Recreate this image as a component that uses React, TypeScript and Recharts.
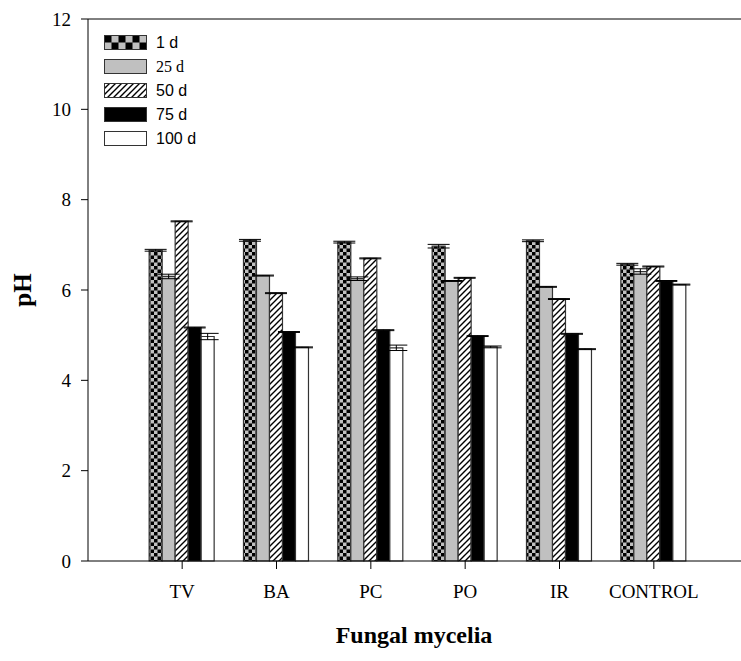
import { BarChart, Bar, XAxis, YAxis, ErrorBar, ReferenceLine } from "recharts";

const categories = ["TV", "BA", "PC", "PO", "IR", "CONTROL"];
const day1 = [6.88, 7.1, 7.06, 6.97, 7.09, 6.57];
const day25 = [6.3, 6.32, 6.25, 6.2, 6.07, 6.41];
const day50 = [7.52, 5.93, 6.7, 6.27, 5.8, 6.52];
const day75 = [5.17, 5.07, 5.11, 4.98, 5.03, 6.2];
const day100 = [4.97, 4.73, 4.72, 4.74, 4.69, 6.12];
const err1 = [0.02, 0.02, 0.02, 0.04, 0.02, 0.02];
const err25 = [0.05, 0.01, 0.04, 0.01, 0.01, 0.06];
const err50 = [0.01, 0.01, 0.01, 0.01, 0.01, 0.01];
const err75 = [0.01, 0.01, 0.01, 0.01, 0.01, 0.01];
const err100 = [0.07, 0.01, 0.06, 0.02, 0.01, 0.01];
const yTicks = [0, 2, 4, 6, 8, 10, 12];

const data = categories.map((name, i) => ({
  name,
  d1: day1[i],
  d25: day25[i],
  d50: day50[i],
  d75: day75[i],
  d100: day100[i],
  e1: err1[i],
  e25: err25[i],
  e50: err50[i],
  e75: err75[i],
  e100: err100[i],
}));

const sans = "'Liberation Sans', Arial, sans-serif";
const serif = "'Liberation Serif', 'Times New Roman', serif";

const series = [
  { key: "d1", err: "e1", label: "1 d", fill: "url(#checker)", legendFill: "url(#checkerBig)", font: sans },
  { key: "d25", err: "e25", label: "25 d", fill: "#c0c0c0", legendFill: "#c0c0c0", font: serif },
  { key: "d50", err: "e50", label: "50 d", fill: "url(#hatch)", legendFill: "url(#hatch)", font: sans },
  { key: "d75", err: "e75", label: "75 d", fill: "#000000", legendFill: "#000000", font: sans },
  { key: "d100", err: "e100", label: "100 d", fill: "#ffffff", legendFill: "#ffffff", font: sans },
];

function LegendBox() {
  return (
    <div style={{ position: "absolute", left: 104, top: 35, display: "flex", flexDirection: "column", gap: 9 }}>
      {series.map((s) => (
        <div key={s.key} style={{ display: "flex", alignItems: "center", height: 15 }}>
          <svg width={43} height={15} style={{ display: "block" }}>
            <rect x={0.5} y={0.5} width={42} height={14} fill={s.legendFill} stroke="#333" strokeWidth={1} />
          </svg>
          <span style={{ marginLeft: 9, fontFamily: s.font, fontSize: 16, color: "#000", lineHeight: "15px" }}>
            {s.label}
          </span>
        </div>
      ))}
    </div>
  );
}

export default function App() {
  return (
    <div
      style={{
        position: "absolute",
        left: 0,
        top: 0,
        width: 741,
        height: 661,
        background: "#fff",
        fontFamily: serif,
      }}
    >
      <BarChart
        width={741}
        height={661}
        data={data}
        margin={{ top: 19, right: 0, bottom: 0, left: 0 }}
        barCategoryGap="15%"
        barGap={0}
        style={{ fontFamily: serif }}
      >
        <defs>
          <pattern id="checker" width={7} height={7} patternUnits="userSpaceOnUse">
            <rect width={7} height={7} fill="#c0c0c0" />
            <rect width={3.5} height={3.5} fill="#000" />
            <rect x={3.5} y={3.5} width={3.5} height={3.5} fill="#000" />
          </pattern>
          <pattern id="checkerBig" x={0.5} y={0.5} width={14} height={14} patternUnits="userSpaceOnUse">
            <rect width={14} height={14} fill="#c0c0c0" />
            <rect width={7} height={7} fill="#000" />
            <rect x={7} y={7} width={7} height={7} fill="#000" />
          </pattern>
          <pattern id="hatch" width={6} height={6} patternUnits="userSpaceOnUse">
            <rect width={6} height={6} fill="#fff" />
            <path d="M0,6 L6,0 M-1,1 L1,-1 M5,7 L7,5" stroke="#000" strokeWidth={1.4} />
          </pattern>
        </defs>
        <XAxis
          dataKey="name"
          height={100}
          padding={{ left: 47, right: 40 }}
          tickSize={8}
          tickMargin={16}
          axisLine={{ stroke: "#000" }}
          tickLine={{ stroke: "#000" }}
          tick={{ fill: "#000", fontSize: 19, fontFamily: serif }}
        />
        <YAxis
          width={88}
          domain={[0, 12]}
          ticks={yTicks}
          tickSize={7}
          tickMargin={10}
          axisLine={{ stroke: "#000" }}
          tickLine={{ stroke: "#000" }}
          tick={{ fill: "#000", fontSize: 19, fontFamily: serif }}
        />
        <ReferenceLine y={12} stroke="#000" strokeWidth={1} />
        {series.map((s) => (
          <Bar
            key={s.key}
            dataKey={s.key}
            name={s.label}
            fill={s.fill}
            stroke="#333"
            strokeWidth={1.2}
            isAnimationActive={false}
          >
            <ErrorBar dataKey={s.err} width={11} stroke="#000" strokeWidth={1} direction="y" />
          </Bar>
        ))}
      </BarChart>
      <LegendBox />
      <div
        style={{
          position: "absolute",
          left: 414,
          top: 635,
          transform: "translate(-50%, -50%)",
          fontFamily: serif,
          fontWeight: "bold",
          fontSize: 24,
          whiteSpace: "nowrap",
        }}
      >
        Fungal mycelia
      </div>
      <div
        style={{
          position: "absolute",
          left: 23,
          top: 290,
          transform: "translate(-50%, -50%) rotate(-90deg)",
          fontFamily: serif,
          fontWeight: "bold",
          fontSize: 25,
          whiteSpace: "nowrap",
        }}
      >
        pH
      </div>
    </div>
  );
}
